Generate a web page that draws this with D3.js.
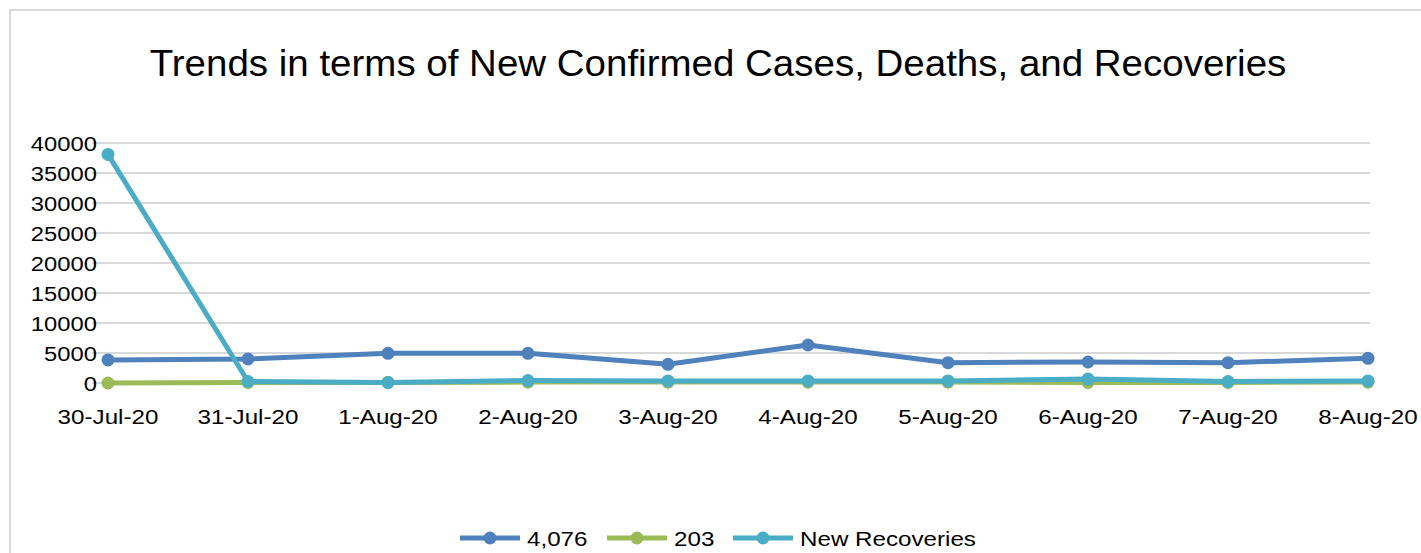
<!DOCTYPE html>
<html>
<head>
<meta charset="utf-8">
<script src="https://cdn.jsdelivr.net/npm/d3@7"></script>
<style>
  body { margin: 0; background: #fff; }
  text { font-family: "Liberation Sans", Arial, sans-serif; fill: #000; }
</style>
</head>
<body>
<div id="chart"></div>
<script>
// chart data
const dates = ['30-Jul-20', '31-Jul-20', '1-Aug-20', '2-Aug-20', '3-Aug-20',
               '4-Aug-20', '5-Aug-20', '6-Aug-20', '7-Aug-20', '8-Aug-20'];
const confirmed = [3850, 4000, 4950, 4950, 3120, 6330, 3380, 3500, 3380, 4120];
const deaths = [0, 100, 100, 150, 150, 150, 150, 100, 100, 150];
const recoveries = [38100, 250, 100, 400, 350, 350, 350, 650, 250, 350];
const yTicks = [0, 5000, 10000, 15000, 20000, 25000, 30000, 35000, 40000];
const seriesNames = ['4,076', '203', 'New Recoveries'];
const seriesColors = ['#4f81bd', '#9bbb59', '#4bacc6'];

const width = 1421, height = 553;

const svg = d3.select('#chart').append('svg')
    .attr('width', width)
    .attr('height', height);

// chart frame
svg.append('rect')
    .attr('x', 10).attr('y', 10)
    .attr('width', width + 20).attr('height', height + 20)
    .attr('fill', 'white')
    .attr('stroke', '#d9d9d9')
    .attr('stroke-width', 2);

// text in the original is stretched horizontally, so scale it a bit
const stretchedText = (g, x, y, str, size, sx, anchor) => g.append('text')
    .attr('transform', `translate(${x},${y}) scale(${sx},1)`)
    .attr('text-anchor', anchor)
    .attr('font-size', size)
    .text(str);

stretchedText(svg, 718, 76, 'Trends in terms of New Confirmed Cases, Deaths, and Recoveries', 36.5, 1.055, 'middle');

const x = d3.scalePoint().domain(dates).range([108, 1368]);
const y = d3.scaleLinear().domain([0, 40000]).range([383, 143]);

// gridlines
svg.append('g')
    .selectAll('line')
    .data(yTicks)
    .enter()
    .append('line')
    .attr('x1', 108 - 16).attr('x2', 1370)
    .attr('y1', d => y(d)).attr('y2', d => y(d))
    .attr('stroke', '#d9d9d9')
    .attr('stroke-width', 2);

// x tick marks
svg.append('g')
    .selectAll('line')
    .data(dates)
    .enter()
    .append('line')
    .attr('x1', d => x(d)).attr('x2', d => x(d))
    .attr('y1', 383).attr('y2', 390)
    .attr('stroke', '#d9d9d9')
    .attr('stroke-width', 1.5);

// axis labels
const yLab = svg.append('g');
yTicks.forEach(t => stretchedText(yLab, 97, y(t) + 7.5, d3.format('d')(t), 19.5, 1.22, 'end'));
const xLab = svg.append('g');
dates.forEach(d => stretchedText(xLab, x(d), 424, d, 19.5, 1.24, 'middle'));

// series
const allSeries = [confirmed, deaths, recoveries];
const line = d3.line().x((d, i) => x(dates[i])).y(d => y(d));

allSeries.forEach((vals, k) => {
    const g = svg.append('g').attr('class', 'series');
    g.append('path')
        .datum(vals)
        .attr('d', line)
        .attr('fill', 'none')
        .attr('stroke', seriesColors[k])
        .attr('stroke-width', 5)
        .attr('stroke-linejoin', 'round');
    g.selectAll('circle')
        .data(vals)
        .enter()
        .append('circle')
        .attr('cx', (d, i) => x(dates[i]))
        .attr('cy', d => y(d))
        .attr('r', 6.5)
        .attr('fill', seriesColors[k]);
});

// legend
const legendX = [460, 607, 733];
seriesNames.forEach((name, k) => {
    const g = svg.append('g').attr('transform', `translate(${legendX[k]},538)`);
    g.append('line')
        .attr('x1', 0).attr('x2', 60)
        .attr('stroke', seriesColors[k])
        .attr('stroke-width', 5);
    g.append('circle')
        .attr('cx', 30).attr('r', 6.5)
        .attr('fill', seriesColors[k]);
    stretchedText(g, 67, 7.5, name, 19.5, 1.24, 'start');
});
</script>
</body>
</html>
